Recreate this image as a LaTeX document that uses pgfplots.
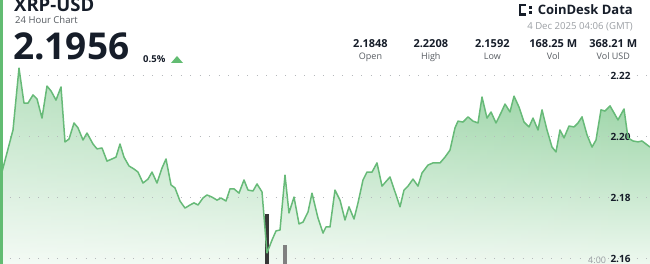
\documentclass[border=0pt]{standalone}
\usepackage{fontspec}
\setmainfont{Open Sans}
\usepackage{pgfplots}
\usepackage{pgfplotstable}
\pgfplotsset{compat=1.18}
\usetikzlibrary{fadings}
\definecolor{lineg}{HTML}{67BA78}
\definecolor{filltop}{HTML}{8CCE99}
\definecolor{fillbot}{HTML}{EDF8EF}
\definecolor{navy}{HTML}{161D29}
\definecolor{subg}{HTML}{555A60}
\definecolor{dateg}{HTML}{9A9EA3}
\definecolor{gridg}{HTML}{B5B8BB}
\definecolor{border}{HTML}{62BC72}
\definecolor{tri}{HTML}{62BC72}
\tikzfading[name=fadeleft, left color=transparent!62, right color=transparent!100]
\pgfplotstableread{
x y
1.7 2.1881
13 2.2022
19 2.2225
24 2.2110
28 2.2110
33 2.2137
37 2.2124
42 2.2061
47 2.2166
51 2.2150
56 2.2120
61 2.2163
65 2.1983
69 2.1992
74 2.2045
78 2.2029
83 2.1989
87 2.2012
93 2.1976
97 2.1960
102 2.1963
107 2.1920
112 2.1927
116 2.1933
120 2.1976
124 2.1933
129 2.1904
134 2.1894
138 2.1884
143 2.1848
148 2.1861
152 2.1884
157 2.1848
162 2.1897
166 2.1927
171 2.1842
175 2.1832
180 2.1789
185 2.1766
190 2.1776
194 2.1783
198 2.1776
203 2.1799
207 2.1809
212 2.1802
217 2.1792
221 2.1799
226 2.1789
230 2.1829
234 2.1829
239 2.1815
244 2.1858
248 2.1825
253 2.1822
257 2.1845
262 2.1819
267 2.1619
272 2.1661
276 2.1691
280 2.1694
285 2.1874
289 2.1750
294 2.1802
299 2.1714
303 2.1720
308 2.1753
312 2.1815
318 2.1733
323 2.1684
326 2.1704
330 2.1704
335 2.1825
340 2.1792
345 2.1727
349 2.1770
354 2.1730
358 2.1783
363 2.1858
367 2.1884
372 2.1884
377 2.1914
382 2.1838
390 2.1868
395 2.1819
400 2.1770
404 2.1825
408 2.1838
413 2.1861
418 2.1838
422 2.1881
428 2.1907
433 2.1914
440 2.1914
445 2.1933
450 2.1956
455 2.2029
458 2.2051
463 2.2048
468 2.2065
473 2.2051
478 2.2045
482 2.2130
487 2.2061
491 2.2081
496 2.2045
501 2.2078
505 2.2107
510 2.2081
514 2.2133
519 2.2097
524 2.2048
529 2.2032
533 2.2061
538 2.2022
542 2.2088
547 2.2022
552 2.1966
556 2.1950
560 2.2022
564 2.1996
569 2.2035
574 2.2032
578 2.2045
582 2.2065
587 2.2006
592 2.1966
596 2.1989
601 2.2088
605 2.2084
610 2.2101
614 2.2078
618 2.2055
624 2.2091
628 2.1996
633 2.1986
638 2.1983
642 2.1986
650 2.1966
}\price
\pgfplotsset{
  base/.style={at={(0pt,0pt)}, anchor=south west, width=650pt, height=264pt,
    scale only axis, xmin=0, xmax=650, ymin=2.15826, ymax=2.24482,
    axis line style={draw=none}, tick style={draw=none}, xtick=\empty, clip=true}
}
\begin{document}
\begin{tikzpicture}[x=1pt,y=1pt]
\useasboundingbox (0,0) rectangle (650,264);
% price fill with grid and tick labels
\begin{axis}[base, axis on top,
  ytick={2.16,2.18,2.20,2.22}, ymajorgrids,
  grid style={gridg, line width=0.9pt, dash pattern=on 0.9pt off 8.6pt},
  yticklabel pos=right,
  yticklabel style={anchor=east, xshift=-16pt, font=\fontsize{10}{10}\selectfont\bfseries, text=navy},
  /pgf/number format/.cd, fixed, fixed zerofill, precision=2, assume math mode=true]
\addplot[draw=none, shade, top color=filltop, bottom color=fillbot] table {\price}
  -- (axis cs:650,2.15826) -- (axis cs:1.7,2.15826) -- cycle;
\addplot[draw=none, fill=white, path fading=fadeleft] table {\price}
  -- (axis cs:650,2.15826) -- (axis cs:1.7,2.15826) -- cycle;
\end{axis}
% volume bars
\begin{axis}[at={(0pt,0pt)}, anchor=south west, width=650pt, height=264pt,
  scale only axis, xmin=0, xmax=650, ymin=0, ymax=264, hide axis]
\addplot[ybar, bar width=4pt, bar shift=0pt, fill=black!78, draw=none] coordinates {(267,50)};
\addplot[ybar, bar width=4pt, bar shift=0pt, fill=black!50, draw=none] coordinates {(285,19)};
\end{axis}
% price line
\begin{axis}[base, ytick=\empty]
\addplot[lineg, line width=1.5pt, line join=round] table {\price};
\end{axis}
% left accent border
\fill[border] (0.3,0) rectangle (2.8,264);
% header left
\node[anchor=base west, inner sep=0, text=navy, font=\fontsize{18.5}{20}\selectfont\bfseries] at (14,252) {XRP-USD};
\node[anchor=base west, inner sep=0, text=subg, font=\fontsize{9.5}{10}\selectfont] at (15,240.5) {24 Hour Chart};
\node[anchor=base west, inner sep=0, text=navy, font=\fontsize{37}{38}\selectfont\bfseries] at (13,204) {2.1956};
\node[anchor=base west, inner sep=0, text=navy, font=\fontsize{9.5}{10}\selectfont\bfseries] at (143,201.5) {0.5\%};
\fill[tri] (171,201) -- (183,201) -- (177,208) -- cycle;
% logo
\fill[navy] (518.5,248) rectangle (521,260);
\fill[navy] (518.5,257.5) rectangle (526,260);
\fill[navy] (518.5,248) rectangle (526,250.5);
\fill[navy] (528.5,255) rectangle (531.5,258);
\fill[navy] (528.5,250) rectangle (531.5,253);
\node[anchor=base east, inner sep=0, text=navy, font=\fontsize{13}{14}\selectfont\bfseries] at (633,249) {CoinDesk Data};
\node[anchor=base east, inner sep=0, text=dateg, font=\fontsize{9.6}{10}\selectfont] at (633,234) {4 Dec 2025 04:06 (GMT)};
% stats
\foreach \xx/\vv/\ll in {370.5/2.1848/Open, 430.8/2.2208/High, 492.3/2.1592/Low, 553.3/168.25 M/Vol, 613.3/368.21 M/Vol USD}{
  \node[anchor=base, inner sep=0, text=navy, font=\fontsize{11}{12}\selectfont\bfseries] at (\xx,216) {\vv};
  \node[anchor=base, inner sep=0, text=subg, font=\fontsize{9}{10}\selectfont] at (\xx,204) {\ll};
}
\node[anchor=base west, inner sep=0, text=dateg, font=\fontsize{9}{10}\selectfont] at (588,0.5) {4:00};
\end{tikzpicture}
\end{document}
